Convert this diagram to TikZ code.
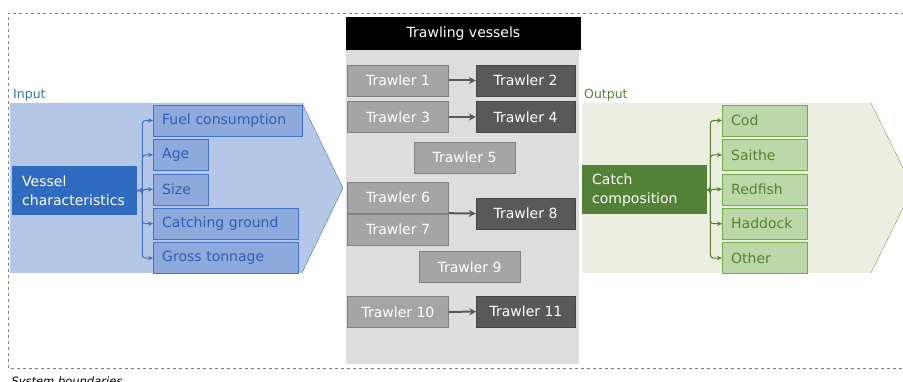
\documentclass[tikz,border=0pt]{standalone}
\usepackage{fontspec}
\setmainfont{DejaVu Sans}
\usetikzlibrary{arrows.meta,positioning}

\definecolor{inshape}{HTML}{B4C7E7}
\definecolor{inedge}{HTML}{4472C4}
\definecolor{indark}{HTML}{2F6BC1}
\definecolor{insub}{HTML}{8EA9DB}
\definecolor{intext}{HTML}{2F5FB3}
\definecolor{inlabel}{HTML}{2E75B6}
\definecolor{outshape}{HTML}{EBEEE1}
\definecolor{outedge}{HTML}{7FA660}
\definecolor{outdark}{HTML}{538135}
\definecolor{outsub}{HTML}{BCD8A8}
\definecolor{outsubedge}{HTML}{70AD47}
\definecolor{outtext}{HTML}{548235}
\definecolor{panelgray}{HTML}{DDDDDD}
\definecolor{lighttrawl}{HTML}{A5A5A5}
\definecolor{darktrawl}{HTML}{595959}

\begin{document}
\begin{tikzpicture}[x=1pt, y=-1pt,
    font=\fontsize{14}{19}\selectfont,
    box/.style={minimum height=31pt, inner ysep=0pt},
    inbox/.style={box, draw=inedge, fill=insub, text=intext, inner xsep=9pt,
                  align=left, text width=#1},
    outbox/.style={box, draw=outsubedge, fill=outsub, text=outtext, inner xsep=9pt,
                   align=left, text width=67pt},
    mainbox/.style={fill=#1, text=white, minimum height=49pt, inner xsep=10pt,
                    align=left, text width=105pt},
    ltrawl/.style={box, draw=gray, fill=lighttrawl, text=white, minimum width=101pt},
    dtrawl/.style={box, draw=darktrawl!80!black, fill=darktrawl, text=white, minimum width=99pt},
    conn/.style={#1, line width=1.1pt, rounded corners=3pt, -{Stealth[length=5pt,width=4.5pt]}},
    tarrow/.style={darktrawl, line width=2pt, -{Stealth[length=7pt,width=7pt]}}
  ]
    \useasboundingbox (0,0) rectangle (903,382);

    % System boundary
    \draw[gray, dashed, thin] (910,13) -- (8,13) -- (8,368) -- (910,368);
    \node[anchor=base west, font=\fontsize{11.5}{13}\selectfont\itshape] (sysb) at (8,385) {System boundaries};

    % Input
    \fill[inshape] (10,103) -- (302,103) -- (343,188) -- (302,273) -- (10,273) -- cycle;
    \draw[inedge, thin] (302,103) -- (343,188) -- (302,273);
    \node[anchor=south west, inner sep=1pt, text=inlabel, font=\fontsize{12.5}{13}\selectfont] (inlab) at (12,102) {Input};
    \node[mainbox=indark, anchor=west] (vessel) at (12,190.5) {Vessel\\characteristics};
    \node[inbox=131pt, anchor=west] (fuel) at (153,120.5) {Fuel consumption};
    \node[inbox=37pt, below=3pt of fuel.south west, anchor=north west] (age) {Age};
    \node[inbox=37pt, below=3pt of age.south west, anchor=north west] (size) {Size};
    \node[inbox=127pt, below=3pt of size.south west, anchor=north west] (ground) {Catching ground};
    \node[inbox=127pt, below=3pt of ground.south west, anchor=north west] (tonnage) {Gross tonnage};
    \foreach \t in {fuel,age,size,ground,tonnage}
      \draw[conn=inedge] (vessel.east) -- ++(5,0) |- (\t.west);

    % Trawling vessels
    \node[fill=black, text=white, minimum width=235pt, minimum height=33pt] (head) at (463.5,33.5) {Trawling vessels};
    \node[fill=panelgray, minimum width=233pt, minimum height=314pt, anchor=north west] (panel) at (head.south west) {};
    \node[ltrawl] (t1) at (398,80.5) {Trawler 1};
    \node[dtrawl] (t2) at (525.5,80.5) {Trawler 2};
    \node[ltrawl] (t3) at (398,117) {Trawler 3};
    \node[dtrawl] (t4) at (525.5,117) {Trawler 4};
    \node[ltrawl] (t5) at (464.5,157.5) {Trawler 5};
    \node[ltrawl] (t6) at (398,197.5) {Trawler 6};
    \node[ltrawl] (t7) at (398,229.5) {Trawler 7};
    \node[dtrawl] (t8) at (525.5,213.5) {Trawler 8};
    \node[ltrawl] (t9) at (469.5,267) {Trawler 9};
    \node[ltrawl] (t10) at (398,312) {Trawler 10};
    \node[dtrawl] (t11) at (526,311.5) {Trawler 11};
    \draw[tarrow] (t1) -- (t2);
    \draw[tarrow] (t3) -- (t4);
    \draw[tarrow] (t6.south east) -- (t8.west);
    \draw[tarrow] (t10) -- (t11);

    % Output
    \fill[outshape] (582,103) -- (871,103) -- (913,188) -- (871,273) -- (582,273) -- cycle;
    \draw[outedge, thin] (871,103) -- (913,188) -- (871,273);
    \node[anchor=south west, inner sep=1pt, text=outtext, font=\fontsize{12.5}{13}\selectfont] (outlab) at (583,102) {Output};
    \node[mainbox=outdark, anchor=west] (catch) at (582,190) {Catch\\composition};
    \node[outbox, anchor=west] (cod) at (722,120.5) {Cod};
    \node[outbox, below=3pt of cod.south west, anchor=north west] (saithe) {Saithe};
    \node[outbox, below=3pt of saithe.south west, anchor=north west] (redfish) {Redfish};
    \node[outbox, below=3pt of redfish.south west, anchor=north west] (haddock) {Haddock};
    \node[outbox, below=3pt of haddock.south west, anchor=north west] (other) {Other};
    \foreach \t in {cod,saithe,redfish,haddock,other}
      \draw[conn=outtext] (catch.east) -- ++(3,0) |- (\t.west);
\end{tikzpicture}
\end{document}
